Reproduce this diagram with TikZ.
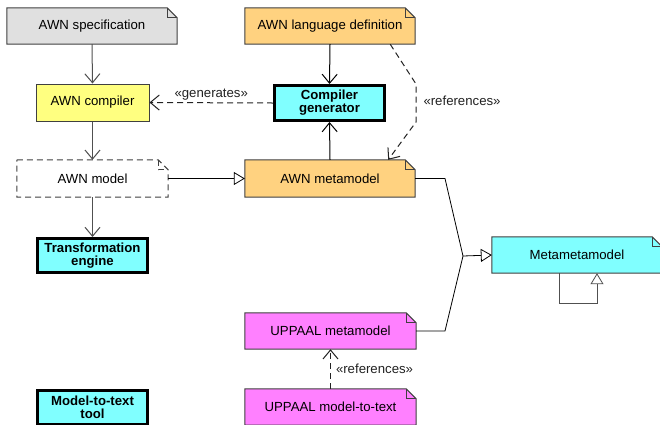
\documentclass[tikz,border=0pt]{standalone}
\usepackage{fontspec}
\setmainfont{Liberation Sans}
\usetikzlibrary{arrows.meta,backgrounds,calc}
\definecolor{grayfill}{HTML}{E0E0E0}
\definecolor{yellowfill}{HTML}{FFFF80}
\definecolor{orangefill}{HTML}{FFD280}
\definecolor{cyanfill}{HTML}{80FFFF}
\definecolor{magentafill}{HTML}{FF80FF}
\definecolor{edgecol}{HTML}{404040}
\definecolor{conncol}{HTML}{505050}
\definecolor{dashcol}{HTML}{222222}
\newcommand\dogear[3][]{%
  \filldraw[edgecol, line width=1pt, fill=#3, #1] (#2.north west) -- ([xshift=-10pt]#2.north east) -- ([yshift=-10pt]#2.north east) -- (#2.south east) -- (#2.south west) -- cycle;
  \draw[edgecol, line width=1pt, #1] ([xshift=-10pt]#2.north east) |- ([yshift=-10pt]#2.north east);}
\tikzset{
  txt/.style={font=\fontsize{13.2}{15}\selectfont},
  notebox/.style={txt, rectangle, inner sep=0pt, minimum width=170pt, minimum height=36pt},
  toolbox/.style={txt, rectangle, draw=black, line width=3pt, fill=cyanfill, font=\fontsize{13.2}{15}\selectfont\bfseries, align=center, inner sep=0pt, minimum width=110pt, minimum height=34pt},
  plainbox/.style={txt, rectangle, draw=edgecol, line width=1pt, inner sep=0pt},
  conn/.style={conncol, line width=1pt, -{Straight Barb[length=9pt,width=15pt]}},
  dconn/.style={conn, dashcol, dash pattern=on 6pt off 4pt},
  gen/.style={black, line width=0.8pt, -{Triangle[open, length=11pt, width=13pt, fill=white]}},
  lbl/.style={txt, inner sep=1pt}
}
\begin{document}
\begin{tikzpicture}[x=1pt,y=-1pt]
\useasboundingbox (0,0) rectangle (660,424);
% nodes
\node[notebox] (spec) at (92,26) {AWN specification};
\node[notebox] (lang) at (330,26) {AWN language definition};
\node[plainbox, fill=yellowfill, minimum width=113pt, minimum height=37pt] (comp) at (92.5,102.5) {AWN compiler};
\node[toolbox, minimum height=35pt] (cg) at (329.5,103) {Compiler\\[-2pt]generator};
\node[notebox, minimum width=151pt, minimum height=37pt] (model) at (92.5,178.5) {AWN model};
\node[notebox, minimum height=37pt] (mm) at (330,178.5) {AWN metamodel};
\node[toolbox] (te) at (92.5,255.5) {Transformation\\[-2pt]engine};
\node[notebox] (mmm) at (577,255) {Metametamodel};
\node[notebox, minimum width=171pt] (umm) at (330.5,331) {UPPAAL metamodel};
\node[notebox, minimum width=171pt] (um2t) at (330.5,407) {UPPAAL model-to-text};
\node[toolbox] (mtt) at (92.5,407.5) {Model-to-text\\[-2pt]tool};
% note outlines on background
\begin{scope}[on background layer]
\fill[white] (0,0) rectangle (660,424);
\dogear{spec}{grayfill}
\dogear{lang}{orangefill}
\dogear[dash pattern=on 6pt off 4pt]{model}{white}
\dogear{mm}{orangefill}
\dogear{mmm}{cyanfill}
\dogear{umm}{magentafill}
\dogear{um2t}{magentafill}
\end{scope}
% connectors
\draw[conn] (spec.south) -- (comp.north);
\draw[conn] (comp.south) -- (model.north);
\draw[conn] (model.south) -- (te.north);
\draw[conn, black] (lang.south) -- (cg.north);
\draw[conn, black] (mm.north) -- (cg.south);
\draw[dconn] (cg.west) -- node[lbl, above, pos=0.5, yshift=1pt] {«generates»} (comp.east);
\coordinate (r1) at (416,84);
\coordinate (r2) at (416,122);
\draw[dconn] ([xshift=-25pt]lang.south east) -- (r1) -- node[lbl, right, xshift=6pt, pos=0.45] {«references»} (r2) -- ([xshift=-27pt]mm.north east);
\draw[gen] (model.east) -- (mm.west);
\coordinate (j) at (463,256);
\coordinate (k1) at (445,178.5);
\coordinate (k2) at (445,331);
\draw[black, line width=0.8pt] (mm.east) -- (k1) -- (j);
\draw[black, line width=0.8pt] (umm.east) -- (k2) -- (j);
\draw[gen] (j) -- (mmm.west);
\coordinate (s2) at (597,303);
\draw[gen, conncol] ([xshift=-18pt]mmm.south) |- (s2) -- ([xshift=20pt]mmm.south);
\draw[dconn] (um2t.north) -- node[lbl, right, xshift=4pt] {«references»} (umm.south);
\end{tikzpicture}
\end{document}
